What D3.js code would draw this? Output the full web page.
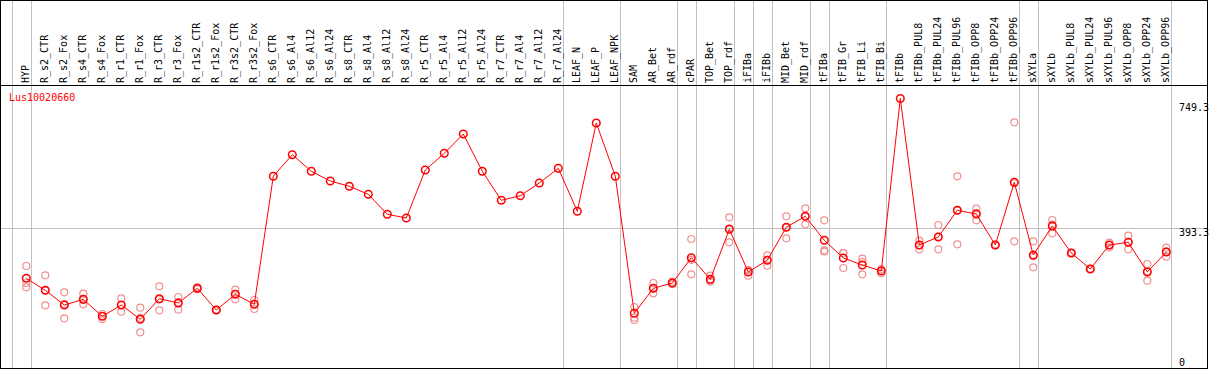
<!DOCTYPE html>
<html><head><meta charset="utf-8">
<script src="https://cdn.jsdelivr.net/npm/d3@7"></script>
<style>body{margin:0;background:#fff}svg{display:block}text{font-family:"DejaVu Sans Mono",monospace;font-size:10px}</style>
</head><body><svg id="c" width="1209" height="370"></svg>
<script>
const categories = ["HYP","R_s2_CTR","R_s2_Fox","R_s4_CTR","R_s4_Fox","R_r1_CTR","R_r1_Fox","R_r3_CTR","R_r3_Fox","R_r1s2_CTR","R_r1s2_Fox","R_r3s2_CTR","R_r3s2_Fox","R_s6_CTR","R_s6_Al4","R_s6_Al12","R_s6_Al24","R_s8_CTR","R_s8_Al4","R_s8_Al12","R_s8_Al24","R_r5_CTR","R_r5_Al4","R_r5_Al12","R_r5_Al24","R_r7_CTR","R_r7_Al4","R_r7_Al12","R_r7_Al24","LEAF_N","LEAF_P","LEAF_NPK","SAM","AR_Bet","AR_rdf","cPAR","TOP_Bet","TOP_rdf","iFIBa","iFIBb","MID_Bet","MID_rdf","tFIBa","tFIB_Gr","tFIB_Li","tFIB_Bi","tFIBb","tFIBb_PUL8","tFIBb_PUL24","tFIBb_PUL96","tFIBb_OPP8","tFIBb_OPP24","tFIBb_OPP96","sXYLa","sXYLb","sXYLb_PUL8","sXYLb_PUL24","sXYLb_PUL96","sXYLb_OPP8","sXYLb_OPP24","sXYLb_OPP96"];
const means = [254.0,220.9,180.4,196.1,149.3,180.4,141.0,197.8,186.0,226.4,166.7,209.9,182.4,535.0,594.5,548.8,522.0,507.4,485.4,430.3,420.1,552.3,598.3,651.5,548.8,468.9,481.5,516.5,557.0,438.6,681.8,535.0,157.6,226.4,241.0,310.7,251.2,389.0,271.4,303.6,394.5,424.8,358.7,309.9,290.6,274.1,749.3,345.7,367.8,441.3,431.1,345.7,518.5,318.2,398.1,323.7,279.6,345.7,353.2,271.4,326.4];
const replicates = [
 [287.9,241.0,229.2],[262.3,220.9,179.6],[215.4,183.2,143.8],[211.6,194.2,182.4],[155.6,141.9,150.1],
 [198.9,162.0,180.4],[173.0,105.2,144.8],[232.0,165.8,195.6],[202.5,167.5,188.0],[229.0,226.0,224.0],
 [166.0,168.0,166.0],[222.6,196.1,211.0],[194.2,169.4,183.6],
 [],[],[],[],[],[],[],[],[],[],[],[],[],[],[],[],[],[],[],
 [174.9,145.5,139.1],[241.0,212.7,226.0],[245.0,241.0,238.0],[362.3,265.0,304.8],[261.2,244.6,248.0],
 [422.0,353.2,391.8],[276.9,261.2,276.0],[317.4,288.7,304.7],[424.8,364.2,394.5],[446.8,402.8,424.8],
 [413.8,331.1,327.3],[323.7,282.4,323.6],[308.0,265.0,298.8],[279.6,267.8,274.9],[],
 [357.6,333.9,345.6],[400.8,333.9,368.7],[535.0,347.7,441.2],[445.7,413.8,433.8],[345.0,347.0,345.0],
 [683.7,355.9,515.9],[355.9,284.3,314.4],[414.6,378.0,401.7],[323.0,324.0,324.0],[279.0,280.0,280.0],
 [339.4,345.7,352.0],[371.3,333.9,354.4],[293.4,247.4,273.4],[338.3,313.5,327.4]
];
const groupEnds = [-1,0,28,31,34,35,37,38,39,41,42,45,52,53,60];
const tickValues = [749.3, 393.3, 0];
const refValue = 393.3;
const geneName = "Lus10020660";

const svg = d3.select("#c");
const W = 1209, H = 370;
const x = d3.scaleBand().domain(categories).range([16.8, 16.8 + 19*categories.length]).paddingInner(0);
const xc = d => x(d) + x.bandwidth()/2;
const y = d3.scaleLinear().domain([0, 749.3]).range([370.5, 98.5]);
const step = x.step();
const sepX = i => 16.8 + step*i + step/2 + 4.4;

// separators
svg.append("g").selectAll("line").data(groupEnds).join("line")
  .attr("x1", i => Math.round(sepX(i)) + 0.5).attr("x2", i => Math.round(sepX(i)) + 0.5)
  .attr("y1", 0).attr("y2", 368).attr("stroke", "#c0c0c0").attr("stroke-width", 1);

// reference line
svg.append("line").attr("x1", 1).attr("x2", 1207)
  .attr("y1", Math.round(y(refValue)) + 0.5).attr("y2", Math.round(y(refValue)) + 0.5)
  .attr("stroke", "#c0c0c0");

// borders
svg.append("rect").attr("x", 0.5).attr("y", 0.5).attr("width", 1207).attr("height", 368)
  .attr("fill", "none").attr("stroke", "#000");
svg.append("line").attr("x1", 0).attr("x2", 1208).attr("y1", 85.5).attr("y2", 85.5).attr("stroke", "#000");

// category labels
svg.append("g").selectAll("text").data(categories).join("text")
  .attr("transform", d => `translate(${xc(d) - 0.5},83) rotate(-90)`)
  .attr("dy", "0.35em").attr("text-anchor", "start").attr("fill", "#000").text(d => d);

// right axis labels
svg.append("g").selectAll("text").data(tickValues).join("text")
  .attr("x", 1179).attr("y", v => Math.max(111, Math.min(365.5, y(v) + 8.5)))
  .attr("fill", "#000").text(v => v === 0 ? "0" : v.toFixed(1));

// title
svg.append("text").attr("x", 9).attr("y", 101).attr("fill", "#ff0000").text(geneName);

// replicates
const repData = [];
replicates.forEach((arr, i) => arr.forEach(v => repData.push({c: categories[i], v})));
svg.append("g").selectAll("circle").data(repData).join("circle")
  .attr("cx", d => xc(d.c)).attr("cy", d => y(d.v)).attr("r", 3.5)
  .attr("fill", "none").attr("stroke", "#f09090").attr("stroke-width", 1.2);

// line
const line = d3.line().x((d, i) => xc(categories[i])).y(d => y(d));
svg.append("path").datum(means).attr("d", line).attr("fill", "none").attr("stroke", "#ff0000").attr("stroke-width", 1);

// means
svg.append("g").selectAll("circle").data(means).join("circle")
  .attr("cx", (d, i) => xc(categories[i])).attr("cy", d => y(d)).attr("r", 3.8)
  .attr("fill", "none").attr("stroke", "#ff0000").attr("stroke-width", 1.5);
</script></body></html>
